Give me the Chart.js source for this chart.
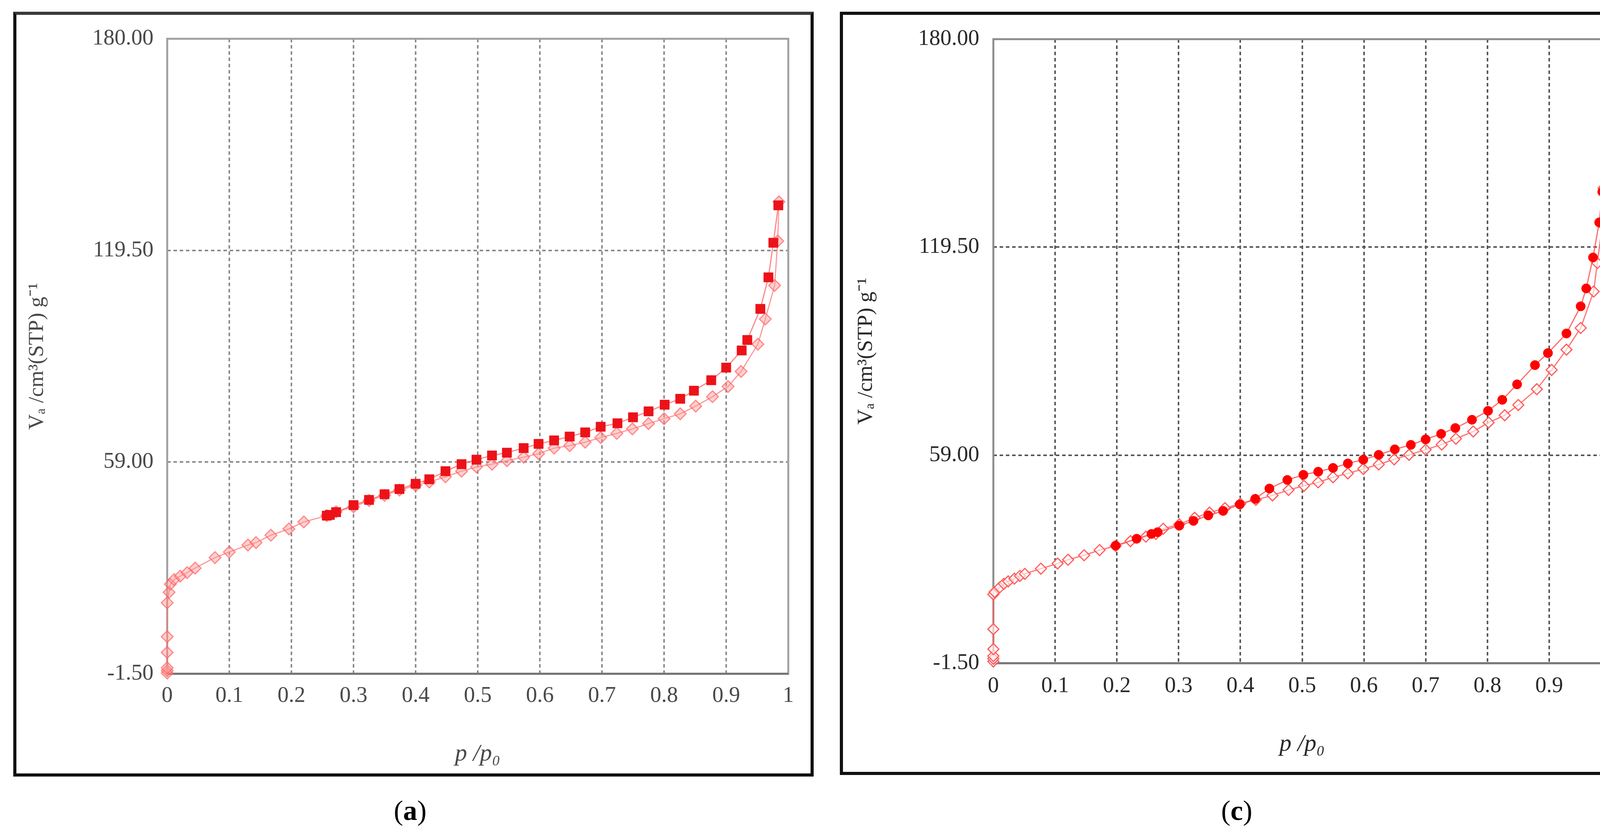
<!DOCTYPE html>
<html>
<head>
<meta charset="utf-8">
<script src="https://cdn.jsdelivr.net/npm/chart.js@4.4.1/dist/chart.umd.min.js"></script>
<style>
  html, body { margin: 0; padding: 0; background: #fff; }
  body { width: 4220px; height: 2134px; position: relative; overflow: hidden; }
  .box { position: absolute; box-sizing: border-box; border: 8px solid #111; }
  .plot { position: absolute; }
  .cap { position: absolute; font-family: "Liberation Serif", serif; font-size: 72px; color: #000; transform: translate(-50%, -50%); }
</style>
</head>
<body>
<div class="box" style="left:34px;top:30px;width:2049px;height:1957px;border-top-color:#3a3a3a;"></div>
<div class="plot" style="left:34px;top:30px;width:2049px;height:1957px;"><canvas id="chartA"></canvas></div>
<div class="cap" style="left:1050px;top:2074px;">(<b>a</b>)</div>

<div class="box" style="left:2150px;top:30px;width:2026px;height:1953px;"></div>
<div class="plot" style="left:2150px;top:30px;width:2026px;height:1953px;"><canvas id="chartC"></canvas></div>
<div class="cap" style="left:3166px;top:2074px;">(<b>c</b>)</div>

<script>
// axis ticks
var xTicks = [0, 0.1, 0.2, 0.3, 0.4, 0.5, 0.6, 0.7, 0.8, 0.9, 1];
var xTickLabels = ["0", "0.1", "0.2", "0.3", "0.4", "0.5", "0.6", "0.7", "0.8", "0.9", "1"];
var yTicks = [-1.5, 59, 119.5, 180];

// (a) adsorption
var aAdsP = [0, 0, 0, 0, 0, 0, 0.003, 0.005, 0.011, 0.021, 0.032, 0.045, 0.077, 0.1, 0.13, 0.143, 0.167, 0.196, 0.22, 0.257, 0.272, 0.3, 0.325, 0.35, 0.374, 0.4, 0.422, 0.448, 0.474, 0.498, 0.523, 0.547, 0.574, 0.598, 0.623, 0.648, 0.673, 0.698, 0.724, 0.749, 0.775, 0.8, 0.826, 0.851, 0.878, 0.903, 0.924, 0.951, 0.963, 0.978, 0.983, 0.985];
var aAdsV = [-1.3, -0.6, 0.2, 4.6, 9.1, 18.8, 21.8, 24.1, 25.4, 26.4, 27.4, 28.7, 31.7, 33.3, 35.3, 36.0, 38.1, 39.9, 41.9, 43.7, 44.8, 46.2, 48.0, 49.5, 51.0, 52.3, 53.3, 54.8, 56.4, 57.6, 58.4, 59.4, 60.4, 61.4, 63.0, 63.7, 64.7, 66.0, 67.2, 68.5, 70.0, 71.4, 72.8, 75.0, 77.7, 80.6, 84.9, 92.7, 99.9, 109.5, 122.2, 133.4];
// (a) desorption
var aDesP = [0.984, 0.976, 0.968, 0.955, 0.934, 0.925, 0.9, 0.876, 0.848, 0.826, 0.801, 0.775, 0.75, 0.725, 0.698, 0.673, 0.648, 0.623, 0.598, 0.574, 0.547, 0.523, 0.498, 0.474, 0.448, 0.422, 0.4, 0.374, 0.35, 0.325, 0.3, 0.272, 0.262, 0.257];
var aDesV = [132.4, 121.7, 111.8, 102.8, 93.9, 90.9, 86.0, 82.4, 79.4, 77.1, 75.4, 73.5, 71.8, 70.1, 69.1, 67.5, 66.3, 65.2, 64.2, 63.0, 61.7, 60.9, 59.7, 58.4, 56.4, 54.1, 52.8, 51.3, 49.8, 48.2, 46.7, 44.7, 43.9, 43.7];

// (c) adsorption
var cAdsP = [0, 0, 0, 0, 0, 0, 0.002, 0.010, 0.017, 0.024, 0.034, 0.043, 0.051, 0.077, 0.104, 0.121, 0.147, 0.172, 0.198, 0.222, 0.247, 0.263, 0.275, 0.301, 0.326, 0.350, 0.375, 0.400, 0.425, 0.452, 0.478, 0.503, 0.526, 0.550, 0.574, 0.599, 0.624, 0.649, 0.673, 0.700, 0.726, 0.749, 0.777, 0.802, 0.828, 0.850, 0.880, 0.904, 0.928, 0.951, 0.972, 0.978, 0.986, 0.988];
var cAdsV = [-1.0, -0.2, 0.6, 2.6, 8.4, 18.5, 19.2, 20.5, 21.6, 22.3, 23.1, 23.9, 24.5, 26.0, 27.5, 28.6, 29.9, 31.4, 32.6, 34.0, 35.3, 36.1, 37.6, 38.9, 40.8, 42.3, 43.6, 44.9, 46.0, 47.3, 48.9, 50.1, 51.1, 52.6, 53.7, 55.0, 56.3, 57.8, 59.1, 60.6, 62.1, 63.8, 65.9, 68.5, 70.6, 73.6, 78.2, 83.8, 89.7, 96.0, 106.6, 114.9, 126.1, 136.7];
// (c) desorption
var cDesP = [0.986, 0.981, 0.971, 0.960, 0.951, 0.928, 0.898, 0.877, 0.848, 0.824, 0.801, 0.775, 0.748, 0.725, 0.700, 0.676, 0.650, 0.624, 0.599, 0.574, 0.550, 0.526, 0.502, 0.476, 0.447, 0.424, 0.399, 0.372, 0.348, 0.324, 0.301, 0.266, 0.256, 0.232, 0.198];
var cDesV = [135.6, 126.7, 116.5, 107.5, 102.3, 94.4, 88.7, 85.2, 79.6, 75.1, 71.9, 69.3, 66.9, 65.2, 63.6, 62.0, 60.7, 59.1, 57.7, 56.6, 55.3, 54.2, 53.3, 51.8, 49.3, 46.3, 44.7, 42.8, 41.5, 39.9, 38.5, 36.6, 36.1, 34.7, 32.7];

function pairs(px, py) {
    return px.map((p, i) => ({ x: p, y: py[i] }));
}

// draws the plot frame under the markers
const framePlugin = {
    id: "frame",
    beforeDatasetsDraw(chart, args, opts) {
        const { ctx, chartArea: a } = chart;
        ctx.save();
        ctx.lineWidth = opts.width;
        ctx.strokeStyle = opts.color;
        ctx.strokeRect(a.left, a.top, a.right - a.left, a.bottom - a.top);
        ctx.strokeStyle = opts.bottomColor;
        ctx.beginPath();
        ctx.moveTo(a.left, a.bottom);
        ctx.lineTo(a.right, a.bottom);
        ctx.stroke();
        ctx.restore();
    },
};

function makeChart(canvas, s) {
    return new Chart(canvas, {
        type: "scatter",
        data: {
            datasets: [
                {
                    label: "desorption",
                    data: pairs(s.desP, s.desV),
                    showLine: true,
                    borderColor: s.desLine,
                    borderWidth: 3,
                    pointStyle: s.desStyle,
                    pointRadius: s.desRadius,
                    pointBackgroundColor: s.desFill,
                    pointBorderColor: s.desFill,
                    pointBorderWidth: 1,
                    clip: false,
                },
                {
                    label: "adsorption",
                    data: pairs(s.adsP, s.adsV),
                    showLine: true,
                    borderColor: s.adsLine,
                    borderWidth: 3,
                    pointStyle: "rectRot",
                    pointRadius: s.adsRadius,
                    pointBackgroundColor: s.adsFill,
                    pointBorderColor: s.adsStroke,
                    pointBorderWidth: 3,
                    clip: false,
                },
            ],
        },
        options: {
            responsive: true,
            maintainAspectRatio: false,
            animation: false,
            layout: {
                padding: { top: s.padTop, right: s.padRight, bottom: 0, left: 0 },
            },
            plugins: {
                legend: { display: false },
                tooltip: { enabled: false },
                frame: { color: s.frameColor, bottomColor: s.bottomColor, width: 5 },
            },
            scales: {
                x: {
                    type: "linear",
                    min: 0,
                    max: 1,
                    afterBuildTicks: (axis) => {
                        axis.ticks = xTicks.map((v) => ({ value: v }));
                    },
                    afterFit: (axis) => {
                        axis.height = s.xAxisH;
                    },
                    ticks: {
                        autoSkip: false,
                        maxRotation: 0,
                        padding: s.xTickPad,
                        color: s.tickColor,
                        font: { family: "Liberation Serif", size: 57 },
                        callback: (v, i) => xTickLabels[i],
                    },
                    grid: {
                        drawTicks: false,
                        lineWidth: 4,
                        color: (c) => (c.tick && (c.tick.value === 0 || c.tick.value === 1) ? "rgba(0,0,0,0)" : s.gridColor),
                    },
                    border: { display: false, dash: [9, 7] },
                    title: {
                        display: true,
                        text: "p /p₀",
                        color: s.tickColor,
                        font: { family: "Liberation Serif", size: 62, style: "italic" },
                        padding: { top: 0, bottom: s.xTitlePad },
                    },
                },
                y: {
                    type: "linear",
                    min: -1.5,
                    max: 180,
                    afterBuildTicks: (axis) => {
                        axis.ticks = yTicks.map((v) => ({ value: v }));
                    },
                    afterFit: (axis) => {
                        axis.width = s.yAxisW;
                    },
                    ticks: {
                        padding: s.yTickPad,
                        color: s.tickColor,
                        font: { family: "Liberation Serif", size: 57 },
                        callback: (v) => v.toFixed(2),
                    },
                    grid: {
                        drawTicks: false,
                        lineWidth: 4,
                        color: (c) => (c.tick && (c.tick.value === -1.5 || c.tick.value === 180) ? "rgba(0,0,0,0)" : s.gridColor),
                    },
                    border: { display: false, dash: [9, 7] },
                    title: {
                        display: true,
                        text: "Vₐ /cm³(STP) g⁻¹",
                        color: s.tickColor,
                        font: { family: "Liberation Serif", size: 55 },
                        padding: { top: s.yTitlePad, bottom: 0 },
                    },
                },
            },
        },
        plugins: [framePlugin],
    });
}

document.addEventListener("DOMContentLoaded", () => {
    makeChart(document.getElementById("chartA"), {
        adsP: aAdsP, adsV: aAdsV, desP: aDesP, desV: aDesV,
        desStyle: "rect", desRadius: 17, adsRadius: 15,
        desFill: "#ec1218", desLine: "rgba(255,95,95,0.75)",
        adsFill: "rgba(255,150,150,0.45)", adsStroke: "rgba(255,95,95,0.7)", adsLine: "rgba(255,110,110,0.7)",
        padTop: 52, padRight: 65, xAxisH: 263, yAxisW: 394,
        xTickPad: 23, yTickPad: 35, xTitlePad: 20, yTitlePad: 29,
        tickColor: "#4a4a4a", gridColor: "#8a8a8a", frameColor: "#a0a0a0", bottomColor: "#727272",
    });

    makeChart(document.getElementById("chartC"), {
        adsP: cAdsP, adsV: cAdsV, desP: cDesP, desV: cDesV,
        desStyle: "circle", desRadius: 12, adsRadius: 14,
        desFill: "#ff0000", desLine: "rgba(255,80,80,0.85)",
        adsFill: "rgba(255,255,255,0.6)", adsStroke: "#ff5c5c", adsLine: "rgba(255,90,90,0.85)",
        padTop: 60, padRight: 52, xAxisH: 286, yAxisW: 393,
        xTickPad: 25, yTickPad: 36, xTitlePad: 41, yTitlePad: 35,
        tickColor: "#2a2a2a", gridColor: "#555555", frameColor: "#8c8c8c", bottomColor: "#777777",
    });
});
</script>
</body>
</html>
